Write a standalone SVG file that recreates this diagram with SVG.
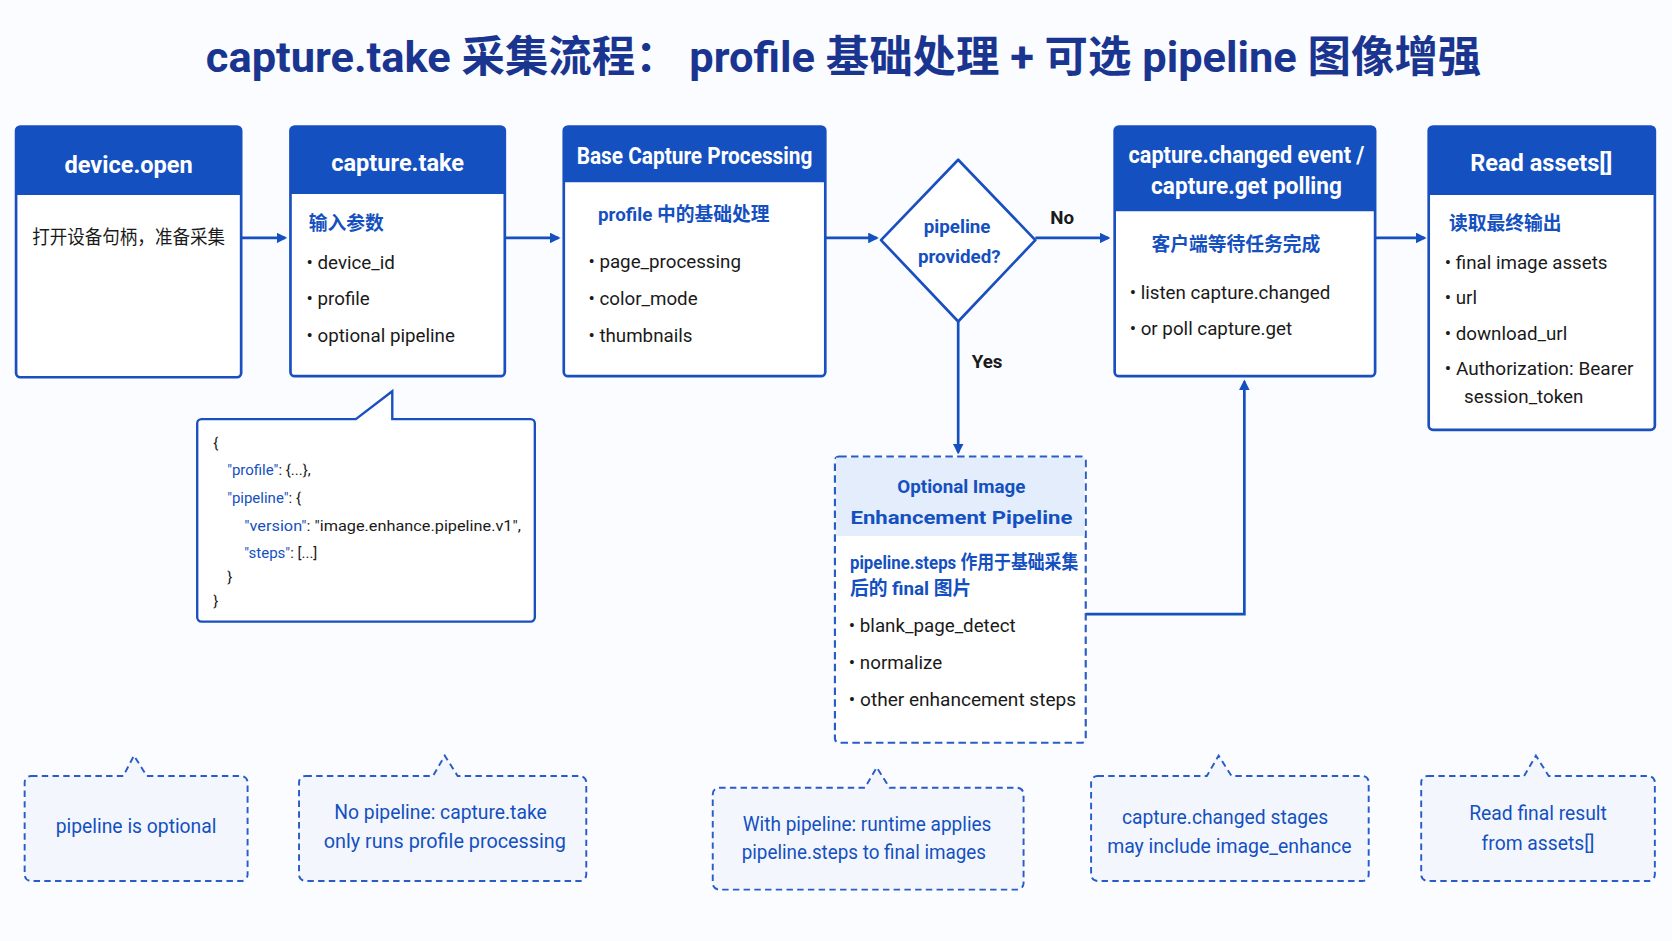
<svg xmlns="http://www.w3.org/2000/svg" width="1672" height="941" viewBox="0 0 1672 941">
<defs>
<style>
text{font-family:"Roboto","Noto Sans","Noto Sans CJK SC",sans-serif}
.box{fill:#fff;stroke:#1a4fbf;stroke-width:2.5}
.hd{fill:#1450c0}
.ht{fill:#fff;font-size:22px;font-weight:bold;text-anchor:middle}
.t{fill:#1a1a1a;font-size:17.5px}
.sub{fill:#1450c0;font-size:17.5px;font-weight:bold}
.dash{fill:#f3f7fd;stroke:#2a5cc8;stroke-width:1.8;stroke-dasharray:6 4}
.nt{fill:#1450c0;font-size:18px;text-anchor:middle}
.ln{stroke:#1450c0;stroke-width:2.5;fill:none}
.js{font-size:14px;fill:#1a1a1a}
.jk{fill:#1450c0}
</style>
<marker id="ah" markerWidth="10" markerHeight="10" refX="8" refY="5" orient="auto" markerUnits="userSpaceOnUse" viewBox="0 0 10 10"><path d="M0,0 L10,5 L0,10 Z" fill="#1450c0"/></marker>
</defs>
<rect width="1672" height="941" fill="#fafcff"/>
<g transform="scale(1.0718)">
<text x="787" y="67" text-anchor="middle" font-size="40" font-weight="bold" fill="#1a3590" textLength="1190" lengthAdjust="spacingAndGlyphs">capture.take 采集流程： profile 基础处理 + 可选 pipeline 图像增强</text>

<g id="connectors">
<path class="ln" d="M225,222 H266" marker-end="url(#ah)"/>
<path class="ln" d="M471,222 H521" marker-end="url(#ah)"/>
<path class="ln" d="M770,222 H818" marker-end="url(#ah)"/>
<path class="ln" d="M966,222 H1034" marker-end="url(#ah)"/>
<text x="991" y="209" text-anchor="middle" class="t" font-weight="bold">No</text>
<path class="ln" d="M894,300 V422" marker-end="url(#ah)"/>
<text x="921" y="343" text-anchor="middle" class="t" font-weight="bold">Yes</text>
<path class="ln" d="M1013,573 H1161 V356" marker-end="url(#ah)"/>
<path class="ln" d="M1283,222 H1329" marker-end="url(#ah)"/>
</g>

<g id="device-open">
<rect class="box" x="15" y="118" width="210" height="234" rx="4"/>
<path class="hd" d="M15,122 a4,4 0 0 1 4,-4 H221 a4,4 0 0 1 4,4 V182 H15 Z"/>
<text class="ht" x="120" y="161">device.open</text>
<text class="t" x="30" y="228" textLength="180" lengthAdjust="spacingAndGlyphs">打开设备句柄，准备采集</text>
</g>

<g id="capture-take">
<rect class="box" x="271" y="118" width="200" height="233" rx="4"/>
<path class="hd" d="M271,122 a4,4 0 0 1 4,-4 H467 a4,4 0 0 1 4,4 V181 H271 Z"/>
<text class="ht" x="371" y="160">capture.take</text>
<text class="sub" x="288" y="215">输入参数</text>
<text class="t" x="286" y="251">•  device_id</text>
<text class="t" x="286" y="285">•  profile</text>
<text class="t" x="286" y="319">•  optional pipeline</text>
</g>

<g id="base-capture">
<rect class="box" x="526" y="118" width="244" height="233" rx="4"/>
<path class="hd" d="M526,122 a4,4 0 0 1 4,-4 H766 a4,4 0 0 1 4,4 V170 H526 Z"/>
<text class="ht" x="648" y="153" textLength="220" lengthAdjust="spacingAndGlyphs">Base Capture Processing</text>
<text class="sub" x="558" y="206">profile 中的基础处理</text>
<text class="t" x="549" y="250">•  page_processing</text>
<text class="t" x="549" y="285">•  color_mode</text>
<text class="t" x="549" y="319">•  thumbnails</text>
</g>

<g id="decision">
<path d="M894,149 L966,224 L894,300 L822,224 Z" fill="#fff" stroke="#1a4fbf" stroke-width="2.5" stroke-linejoin="round"/>
<text x="893" y="217" text-anchor="middle" class="sub" font-size="20" font-weight="normal">pipeline</text>
<text x="895" y="245" text-anchor="middle" class="sub" font-size="20" font-weight="normal">provided?</text>
</g>

<g id="capture-changed">
<rect class="box" x="1040" y="118" width="243" height="233" rx="4"/>
<path class="hd" d="M1040,122 a4,4 0 0 1 4,-4 H1279 a4,4 0 0 1 4,4 V197 H1040 Z"/>
<text class="ht" x="1163" y="152" textLength="220" lengthAdjust="spacingAndGlyphs">capture.changed event /</text>
<text class="ht" x="1163" y="181" textLength="178" lengthAdjust="spacingAndGlyphs">capture.get polling</text>
<text class="sub" x="1153" y="234" text-anchor="middle">客户端等待任务完成</text>
<text class="t" x="1054" y="279">•  listen capture.changed</text>
<text class="t" x="1054" y="313">•  or poll capture.get</text>
</g>

<g id="read-assets">
<rect class="box" x="1333" y="118" width="211" height="283" rx="4"/>
<path class="hd" d="M1333,122 a4,4 0 0 1 4,-4 H1540 a4,4 0 0 1 4,4 V182 H1333 Z"/>
<text class="ht" x="1438" y="160">Read assets[]</text>
<text class="sub" x="1352" y="215">读取最终输出</text>
<text class="t" x="1348" y="251">•  final image assets</text>
<text class="t" x="1348" y="284">•  url</text>
<text class="t" x="1348" y="317">•  download_url</text>
<text class="t" x="1348" y="350" textLength="176" lengthAdjust="spacingAndGlyphs">•  Authorization: Bearer</text>
<text class="t" x="1366" y="376">session_token</text>
</g>

<g id="optional-pipeline">
<rect x="779" y="426" width="234" height="267" rx="4" fill="#fff" stroke="#2a5cc8" stroke-width="2" stroke-dasharray="7 4"/>
<rect x="780" y="427" width="232" height="73" fill="#e3edfb"/>
<text x="897" y="460" text-anchor="middle" class="sub" font-size="22" font-weight="bold">Optional Image</text>
<text x="897" y="489" text-anchor="middle" class="sub" font-size="22" font-weight="bold" textLength="207" lengthAdjust="spacingAndGlyphs">Enhancement Pipeline</text>
<text class="sub" x="793" y="531" font-weight="normal" font-size="16.5" textLength="213" lengthAdjust="spacingAndGlyphs">pipeline.steps 作用于基础采集</text>
<text class="sub" x="793" y="555" font-weight="normal" font-size="16.5">后的 final 图片</text>
<text class="t" x="792" y="590">•  blank_page_detect</text>
<text class="t" x="792" y="624">•  normalize</text>
<text class="t" x="792" y="659" textLength="212" lengthAdjust="spacingAndGlyphs">•  other enhancement steps</text>
</g>

<g id="json-callout">
<path d="M188,391 H332 L366,365 V391 H495 a4,4 0 0 1 4,4 V576 a4,4 0 0 1 -4,4 H188 a4,4 0 0 1 -4,-4 V395 a4,4 0 0 1 4,-4 Z" fill="#fff" stroke="#1a4fbf" stroke-width="2.2"/>
<text class="js" x="199" y="418">{</text>
<text class="js" x="212" y="443"><tspan class="jk">"profile"</tspan>: {...},</text>
<text class="js" x="212" y="469"><tspan class="jk">"pipeline"</tspan>: {</text>
<text class="js" x="228" y="495" textLength="258" lengthAdjust="spacingAndGlyphs"><tspan class="jk">"version"</tspan>: "image.enhance.pipeline.v1",</text>
<text class="js" x="228" y="521"><tspan class="jk">"steps"</tspan>: [...]</text>
<text class="js" x="212" y="543">}</text>
<text class="js" x="199" y="565">}</text>
</g>

<g id="note1">
<path class="dash" d="M29,724 H115 L125,705 L137,724 H225 a6,6 0 0 1 6,6 V816 a6,6 0 0 1 -6,6 H29 a6,6 0 0 1 -6,-6 V730 a6,6 0 0 1 6,-6 Z"/>
<text class="nt" x="127" y="777">pipeline is optional</text>
</g>
<g id="note2">
<path class="dash" d="M285,724 H404 L415,705 L427,724 H541 a6,6 0 0 1 6,6 V816 a6,6 0 0 1 -6,6 H285 a6,6 0 0 1 -6,-6 V730 a6,6 0 0 1 6,-6 Z"/>
<text class="nt" x="411" y="764">No pipeline: capture.take</text>
<text class="nt" x="415" y="791" textLength="226" lengthAdjust="spacingAndGlyphs">only runs profile processing</text>
</g>
<g id="note3">
<path class="dash" d="M671,735 H807 L818,716 L830,735 H949 a6,6 0 0 1 6,6 V824 a6,6 0 0 1 -6,6 H671 a6,6 0 0 1 -6,-6 V741 a6,6 0 0 1 6,-6 Z"/>
<text class="nt" x="809" y="775" textLength="232" lengthAdjust="spacingAndGlyphs">With pipeline: runtime applies</text>
<text class="nt" x="806" y="801" textLength="228" lengthAdjust="spacingAndGlyphs">pipeline.steps to final images</text>
</g>
<g id="note4">
<path class="dash" d="M1024,724 H1126 L1137,705 L1149,724 H1271 a6,6 0 0 1 6,6 V816 a6,6 0 0 1 -6,6 H1024 a6,6 0 0 1 -6,-6 V730 a6,6 0 0 1 6,-6 Z"/>
<text class="nt" x="1143" y="769">capture.changed stages</text>
<text class="nt" x="1147" y="796" textLength="228" lengthAdjust="spacingAndGlyphs">may include image_enhance</text>
</g>
<g id="note5">
<path class="dash" d="M1332,724 H1422 L1433,705 L1445,724 H1538 a6,6 0 0 1 6,6 V816 a6,6 0 0 1 -6,6 H1332 a6,6 0 0 1 -6,-6 V730 a6,6 0 0 1 6,-6 Z"/>
<text class="nt" x="1435" y="765">Read final result</text>
<text class="nt" x="1435" y="793">from assets[]</text>
</g>
</g>
</svg>
